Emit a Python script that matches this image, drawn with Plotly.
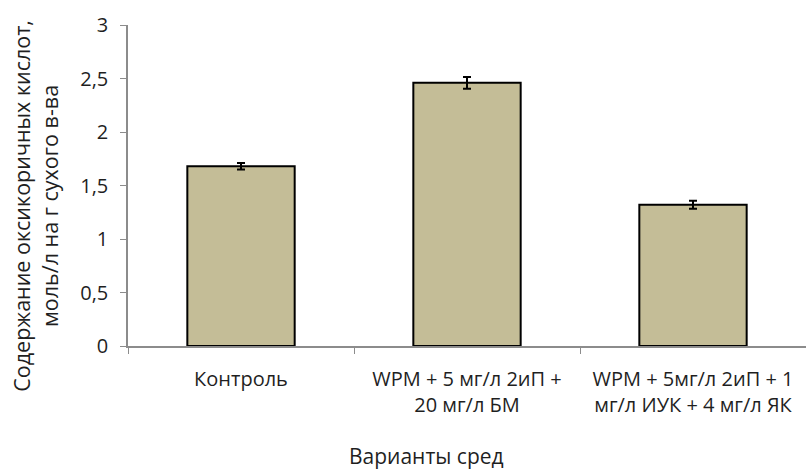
import plotly.graph_objects as go

categories = [
    "Контроль",
    "WPM + 5 мг/л 2иП +<br>20 мг/л БМ",
    "WPM + 5мг/л 2иП + 1<br>мг/л ИУК + 4 мг/л ЯК",
]
values = [1.68, 2.46, 1.32]
errors = [0.03, 0.055, 0.037]

y_ticks = [0, 0.5, 1, 1.5, 2, 2.5, 3]

x_title = "Варианты сред"
y_title = "Содержание оксикоричных кислот,<br>моль/л на г сухого в-ва"

font_family = "Open Sans, Noto Sans, sans-serif"
text_color = "#1f1f1f"
axis_color = "#8c8c8c"

fig = go.Figure(
    go.Bar(
        x=categories,
        y=values,
        marker=dict(color="#c4bd97", line=dict(color="black", width=2)),
        error_y=dict(type="data", array=errors, color="black", thickness=2, width=4),
        width=0.475,
    )
)

fig.update_layout(
    width=806,
    height=469,
    margin=dict(l=128, r=0, t=25, b=123),
    paper_bgcolor="white",
    plot_bgcolor="white",
    separators=", ",
    showlegend=False,
    font=dict(family=font_family, size=20, color=text_color),
    xaxis=dict(
        showline=True,
        linecolor=axis_color,
        linewidth=1.5,
        ticks="outside",
        tickson="boundaries",
        ticklen=6,
        tickcolor=axis_color,
        showgrid=False,
        ticklabelstandoff=14,
        tickfont=dict(size=20, color=text_color),
    ),
    yaxis=dict(
        range=[0, 3],
        tickvals=y_ticks,
        showline=True,
        linecolor=axis_color,
        linewidth=1.5,
        ticks="outside",
        ticklen=6,
        tickcolor=axis_color,
        showgrid=False,
        zeroline=False,
        ticklabelstandoff=8,
        tickfont=dict(size=20, color=text_color),
    ),
    annotations=[
        dict(
            text=x_title,
            xref="paper", yref="paper",
            x=0.44, y=-0.343,
            xanchor="center", yanchor="middle",
            showarrow=False,
            font=dict(size=21, color=text_color),
        ),
        dict(
            text=y_title,
            xref="paper", yref="paper",
            x=-0.1357, y=0.437,
            xanchor="center", yanchor="middle",
            textangle=-90,
            showarrow=False,
            font=dict(size=21.5, color=text_color),
        ),
    ],
)

fig.write_html("out.html")
